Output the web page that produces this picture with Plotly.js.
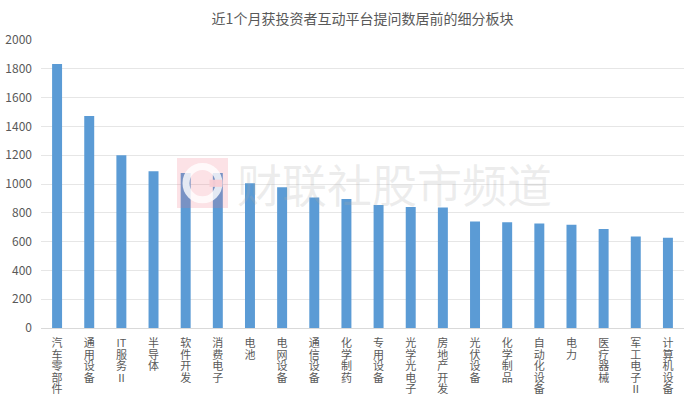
<!DOCTYPE html>
<html>
<head>
<meta charset="utf-8">
<script src="https://cdn.plot.ly/plotly-3.0.1.min.js"></script>
<style>html,body{margin:0;padding:0;background:#fff;}#chart{width:693px;height:399px;}</style>
</head>
<body>
<div id="chart"></div>
<script>
const categories = ["汽车零部件","通用设备","IT服务Ⅱ","半导体","软件开发","消费电子","电池","电网设备","通信设备","化学制药","专用设备","光学光电子","房地产开发","光伏设备","化学制品","自动化设备","电力","医疗器械","军工电子Ⅱ","计算机设备"];
const values = [1834,1473,1200,1089,1076,1076,1006,977,907,896,854,840,836,740,735,726,717,687,636,626];
const yTicks = [0,200,400,600,800,1000,1200,1400,1600,1800,2000];
const titleText = "近1个月获投资者互动平台提问数居前的细分板块";
const watermark = "财联社股市频道";

function verticalLabel(s){
  const parts = [];
  let i = 0;
  while (i < s.length) {
    if (s.slice(i, i+2) === "IT") { parts.push("IT"); i += 2; }
    else { parts.push(s[i]); i += 1; }
  }
  return parts.join("<br>");
}
const tickText = categories.map(verticalLabel);

const font = "'Noto Sans CJK SC', 'Noto Sans', sans-serif";
const trace = {
  type: "bar",
  x: categories,
  y: values,
  marker: {color: "#5b9bd5"},
  hoverinfo: "x+y"
};
const layout = {
  width: 693, height: 399,
  margin: {l: 41, r: 9, t: 40, b: 71},
  paper_bgcolor: "#fff", plot_bgcolor: "#fff",
  bargap: 0.69,
  showlegend: false,
  font: {family: font, color: "#595959", size: 12},
  title: {text: titleText, font: {family: font, size: 14, color: "#595959"}, x: 0.5, xref: "paper", y: 0.965, yref: "container"},
  xaxis: {
    type: "category",
    tickvals: categories, ticktext: tickText,
    tickangle: 0,
    tickfont: {family: font, size: 11, color: "#595959"},
    showgrid: false, zeroline: false,
    showline: true, linecolor: "#d9d9d9", linewidth: 1,
    ticks: "", ticklabelstandoff: 5,
    fixedrange: true
  },
  yaxis: {
    range: [0, 2000],
    tickvals: yTicks,
    tickfont: {family: font, size: 12, color: "#595959"},
    showgrid: true, gridcolor: "#e6e6e6", gridwidth: 1,
    zeroline: false, showline: false, ticks: "",
    ticklabelstandoff: 8,
    fixedrange: true
  },
  shapes: [
    {type: "rect", xref: "paper", yref: "paper", x0: 0.2115, x1: 0.2908, y0: 0.4167, y1: 0.590,
     fillcolor: "rgba(240,110,130,0.2)", line: {width: 0}, layer: "above"},
    {type: "circle", xref: "paper", yref: "paper", x0: 0.2255, x1: 0.2768, y0: 0.445, y1: 0.561,
     fillcolor: "rgba(0,0,0,0)", line: {width: 7, color: "rgba(255,255,255,0.8)"}, layer: "above"},
    {type: "rect", xref: "paper", yref: "paper", x0: 0.262, x1: 0.282, y0: 0.49, y1: 0.515,
     fillcolor: "rgba(248,205,212,0.95)", line: {width: 0}, layer: "above"}
  ],
  annotations: [
    {xref: "paper", yref: "paper", x: 0.5505, y: 0.503, text: watermark, showarrow: false,
     font: {family: font, size: 45, color: "rgba(170,170,170,0.22)"}}
  ]
};
Plotly.newPlot("chart", [trace], layout, {displayModeBar: false, staticPlot: true}).then(function(){
  document.querySelectorAll(".xtick text").forEach(function(txt){
    txt.querySelectorAll("tspan.line").forEach(function(t, i){
      t.setAttribute("dy", (i * 1.05) + "em");
    });
  });
});
</script>
</body>
</html>
